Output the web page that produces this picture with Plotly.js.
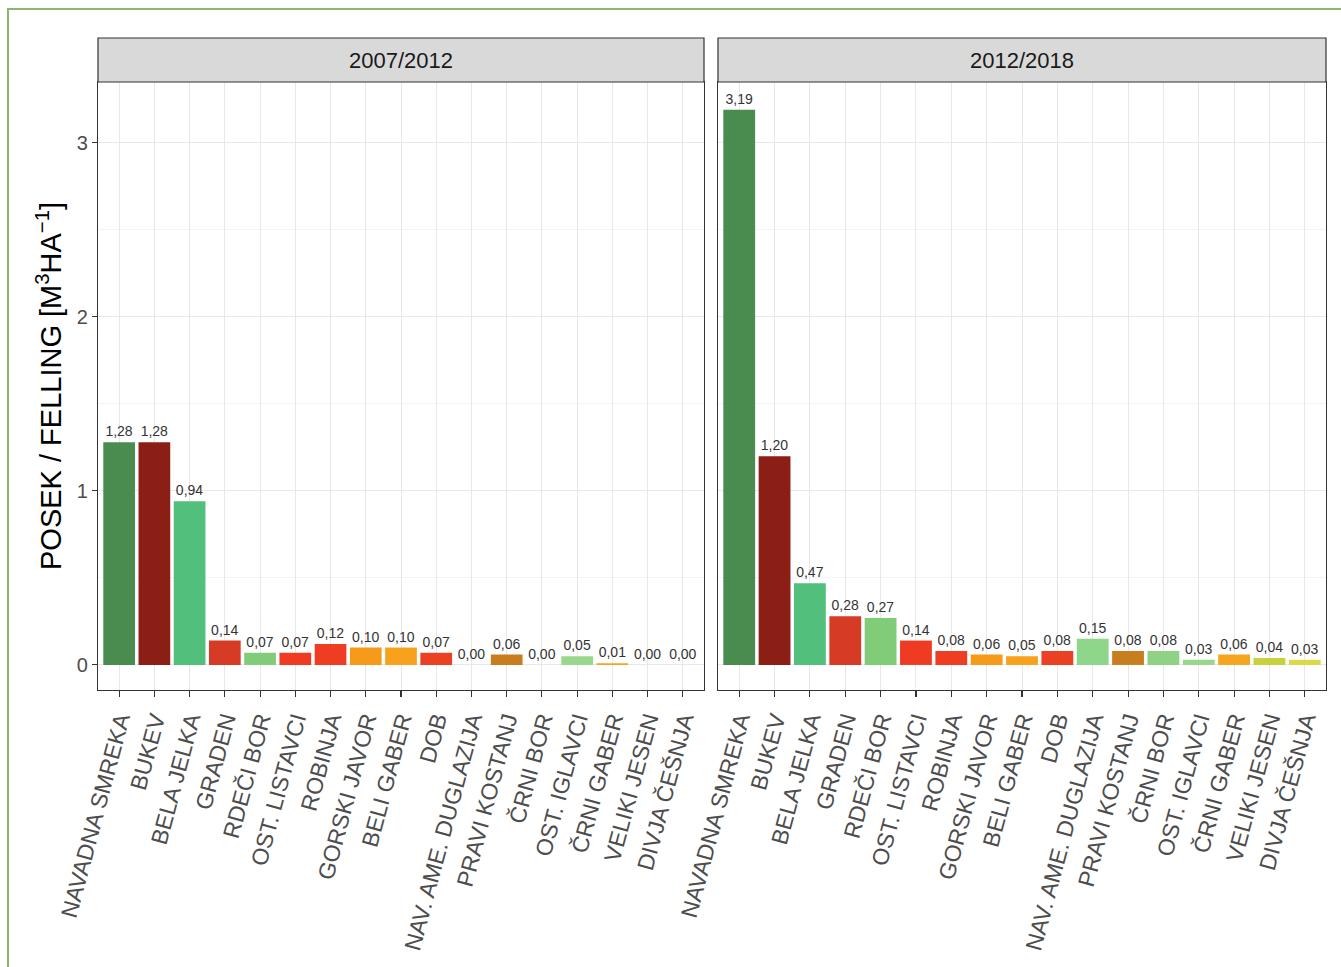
<!DOCTYPE html>
<html>
<head>
<meta charset="utf-8">
<script src="https://cdn.plot.ly/plotly-3.0.1.min.js"></script>
<style>
html,body{margin:0;padding:0;background:#fff;}
#chart{width:1341px;height:967px;}
</style>
</head>
<body>
<div id="chart"></div>
<script>
const categories = ["NAVADNA SMREKA","BUKEV","BELA JELKA","GRADEN","RDEČI BOR","OST. LISTAVCI","ROBINJA","GORSKI JAVOR","BELI GABER","DOB","NAV. AME. DUGLAZIJA","PRAVI KOSTANJ","ČRNI BOR","OST. IGLAVCI","ČRNI GABER","VELIKI JESEN","DIVJA ČEŠNJA"];
const panels = ["2007/2012","2012/2018"];
const felling2007_2012 = [1.28,1.28,0.94,0.14,0.07,0.07,0.12,0.10,0.10,0.07,0.00,0.06,0.00,0.05,0.01,0.00,0.00];
const felling2012_2018 = [3.19,1.20,0.47,0.28,0.27,0.14,0.08,0.06,0.05,0.08,0.15,0.08,0.08,0.03,0.06,0.04,0.03];
const speciesColors = ["#4a8c50","#8c1f15","#52c07c","#d63b26","#80cc78","#ee3b22","#ee3d22","#f59a1b","#f7a11c","#ea4024","#8ed689","#c87e1e","#8fd283","#9bd68e","#f5a520","#c6d23b","#d9d94a"];
const yTitle = "POSEK / FELLING [M<sup>3</sup>HA<sup>−1</sup>]";

const fmt = v => v.toFixed(2).replace(".", ",");
const font = "Liberation Sans, Arial, sans-serif";

function barTrace(vals, xa, ya){
  return {
    type:"bar", x:categories, y:vals, xaxis:xa, yaxis:ya,
    marker:{color:speciesColors, line:{width:0}},
    text: vals.map(fmt), textposition:"outside", constraintext:"none",
    textfont:{family:font, size:14, color:"#333"},
    cliponaxis:false, hoverinfo:"x+y", showlegend:false
  };
}

const W=1341, H=967;
const xL=[98/W,704/W], xR=[718/W,1326/W];
const yD=[1-690/H, 1-82/H];
const stripY=[1-82/H, 1-38/H];

const xaxisCommon = {
  type:"category", categoryorder:"array", categoryarray:categories,
  range:[-0.6,16.6], showgrid:true, gridcolor:"#e8e8e8", gridwidth:1,
  showline:true, mirror:true, linecolor:"#333", linewidth:1.2,
  ticks:"outside", ticklen:6, tickcolor:"#333", tickwidth:1.1,
  tickangle:-75, tickfont:{family:font, size:23, color:"#4d4d4d"},
  zeroline:false, automargin:false, fixedrange:true
};
const yaxisCommon = {
  range:[-0.144,3.35], tickvals:[0,1,2,3], showgrid:true, gridcolor:"#e8e8e8", gridwidth:1,
  minor:{tickvals:[0.5,1.5,2.5], showgrid:true, gridcolor:"#f1f1f1", gridwidth:0.8, ticks:""},
  showline:true, mirror:true, linecolor:"#333", linewidth:1.2,
  zeroline:false, automargin:false, fixedrange:true
};

const layout = {
  width:W, height:H, margin:{l:0,r:0,t:0,b:0},
  paper_bgcolor:"#fff", plot_bgcolor:"#fff",
  bargap:0.1,
  font:{family:font},
  xaxis: Object.assign({}, xaxisCommon, {domain:xL, anchor:"y"}),
  xaxis2: Object.assign({}, xaxisCommon, {domain:xR, anchor:"y2"}),
  yaxis: Object.assign({}, yaxisCommon, {domain:yD, anchor:"x",
    ticks:"outside", ticklen:5, tickcolor:"#333", tickwidth:1.1,
    tickfont:{family:font, size:20, color:"#4d4d4d"},
    title:{text:yTitle, font:{family:font, size:29, color:"#000"}, standoff:6}}),
  yaxis2: Object.assign({}, yaxisCommon, {domain:yD, anchor:"x2", showticklabels:false, ticks:""}),
  shapes:[
    {type:"rect", xref:"paper", yref:"paper", x0:xL[0], x1:xL[1], y0:stripY[0], y1:stripY[1], fillcolor:"#d9d9d9", line:{color:"#333", width:1.2}, layer:"above"},
    {type:"rect", xref:"paper", yref:"paper", x0:xR[0], x1:xR[1], y0:stripY[0], y1:stripY[1], fillcolor:"#d9d9d9", line:{color:"#333", width:1.2}, layer:"above"},
    {type:"rect", xref:"paper", yref:"paper", x0:8/W, x1:1.01, y0:-0.02, y1:1-9/H, fillcolor:"rgba(0,0,0,0)", line:{color:"#8cb572", width:2}}
  ],
  annotations:[
    {xref:"paper", yref:"paper", x:(xL[0]+xL[1])/2, y:(stripY[0]+stripY[1])/2, yanchor:"middle", xanchor:"center", text:panels[0], showarrow:false, font:{family:font, size:22, color:"#1a1a1a"}},
    {xref:"paper", yref:"paper", x:(xR[0]+xR[1])/2, y:(stripY[0]+stripY[1])/2, yanchor:"middle", xanchor:"center", text:panels[1], showarrow:false, font:{family:font, size:22, color:"#1a1a1a"}}
  ]
};

Plotly.newPlot("chart", [barTrace(felling2007_2012,"x","y"), barTrace(felling2012_2018,"x2","y2")], layout, {staticPlot:true, displayModeBar:false});
</script>
</body>
</html>
